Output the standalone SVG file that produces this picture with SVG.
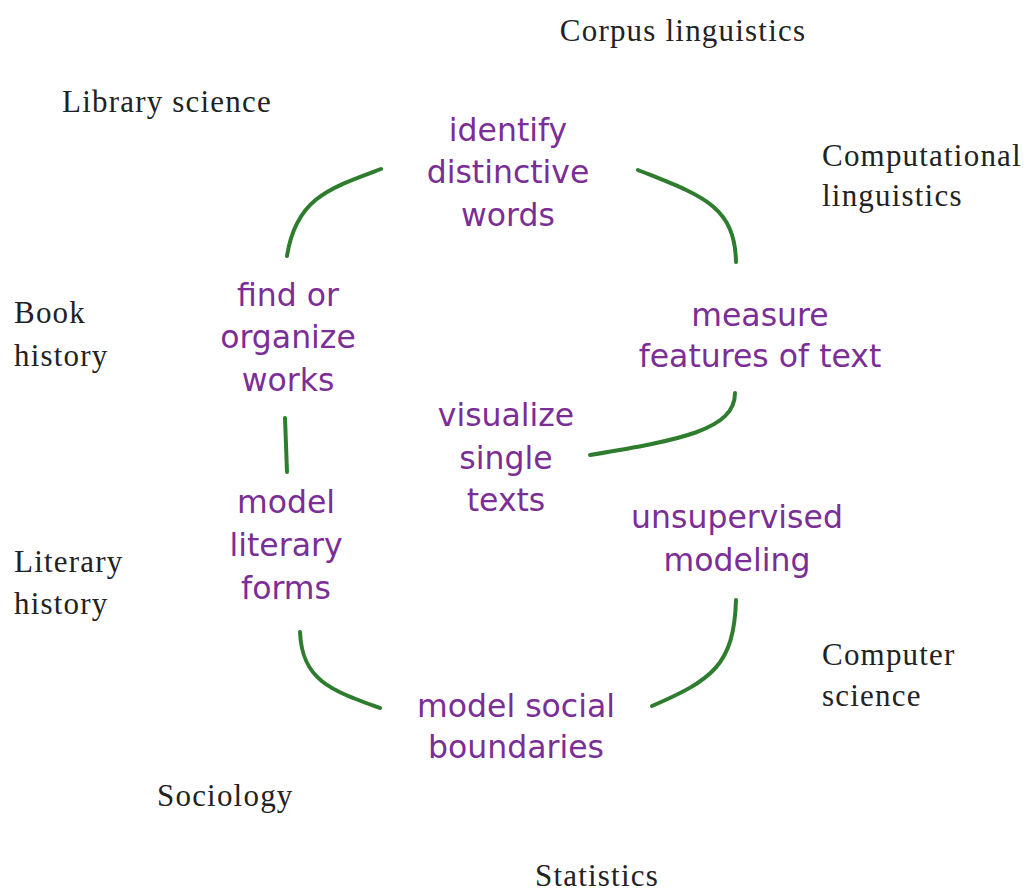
<svg xmlns="http://www.w3.org/2000/svg" width="1033" height="894" viewBox="0 0 1033 894">
<style>
.f{font-family:"Liberation Serif","DejaVu Serif",serif;font-size:31px;fill:#222;letter-spacing:1.2px}
.p{font-family:"DejaVu Sans","Noto Sans",sans-serif;font-size:31.5px;fill:#7a2e96;text-anchor:middle}
.c{fill:none;stroke:#2e7d2e;stroke-width:4;stroke-linecap:round}
</style>
<rect width="1033" height="894" fill="#ffffff"/>
<g id="fields">
<text class="f" x="683" y="41" text-anchor="middle">Corpus linguistics</text>
<text class="f" x="62" y="112">Library science</text>
<text class="f" x="822" y="166">Computational</text>
<text class="f" x="822" y="206">linguistics</text>
<text class="f" x="14" y="323">Book</text>
<text class="f" x="14" y="366">history</text>
<text class="f" x="14" y="572">Literary</text>
<text class="f" x="14" y="614">history</text>
<text class="f" x="822" y="665">Computer</text>
<text class="f" x="822" y="706">science</text>
<text class="f" x="157" y="806">Sociology</text>
<text class="f" x="597" y="886" text-anchor="middle">Statistics</text>
</g>
<g id="identify"><text class="p" x="508" y="141">identify</text><text class="p" x="508" y="183">distinctive</text><text class="p" x="508" y="226">words</text></g>
<g id="find"><text class="p" x="288" y="306">find or</text><text class="p" x="288" y="348">organize</text><text class="p" x="288" y="391">works</text></g>
<g id="measure"><text class="p" x="760" y="326">measure</text><text class="p" x="760" y="367">features of text</text></g>
<g id="visualize"><text class="p" x="506" y="426">visualize</text><text class="p" x="506" y="469">single</text><text class="p" x="506" y="511">texts</text></g>
<g id="literary"><text class="p" x="286" y="513">model</text><text class="p" x="286" y="556">literary</text><text class="p" x="286" y="599">forms</text></g>
<g id="unsupervised"><text class="p" x="737" y="528">unsupervised</text><text class="p" x="737" y="571">modeling</text></g>
<g id="social"><text class="p" x="516" y="717">model social</text><text class="p" x="516" y="758">boundaries</text></g>
<g id="connectors">
<path class="c" d="M381,169 C330,188 296,198 287,256"/>
<path class="c" d="M638,170 C700,195 735,205 736,262"/>
<path class="c" d="M590,455 C680,440 735,430 735,393"/>
<path class="c" d="M285,418 L287,472"/>
<path class="c" d="M300,632 C302,680 330,690 380,708"/>
<path class="c" d="M736,600 C734,665 712,680 652,706"/>
</g>
</svg>
